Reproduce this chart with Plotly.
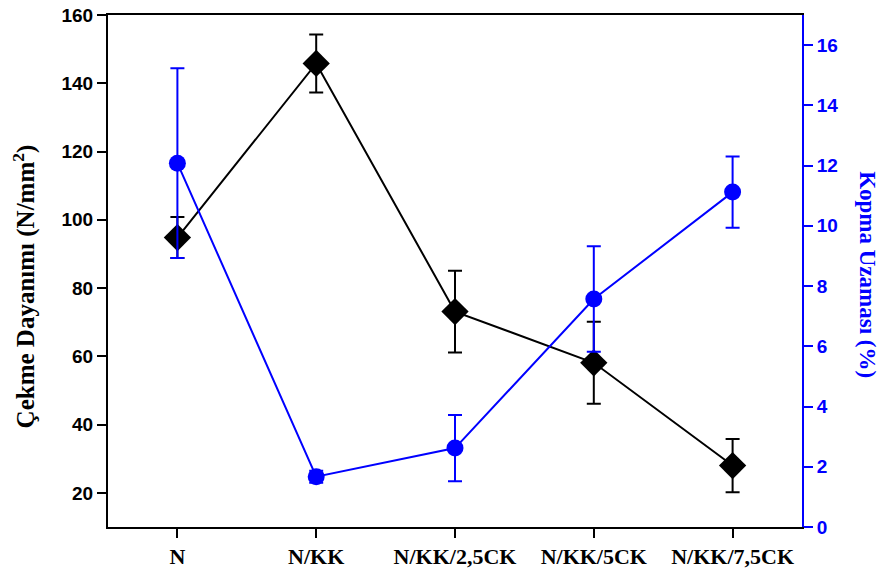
import plotly.graph_objects as go

categories = ["N", "N/KK", "N/KK/2,5CK", "N/KK/5CK", "N/KK/7,5CK"]
strength = [94.8, 145.8, 73.1, 58.1, 28.0]
strength_err = [6.0, 8.5, 12.0, 12.0, 7.8]
elongation = [12.08, 1.67, 2.62, 7.57, 11.12]
elongation_err = [3.15, 0.2, 1.1, 1.75, 1.18]

xs = list(range(len(categories)))

fig = go.Figure()
fig.add_trace(go.Scatter(
    x=xs, y=strength, mode="lines+markers",
    line=dict(color="black", width=2),
    marker=dict(symbol="diamond", size=21, color="black"),
    error_y=dict(type="data", array=strength_err, color="black", thickness=2, width=7),
    showlegend=False, yaxis="y",
))
fig.add_trace(go.Scatter(
    x=xs, y=elongation, mode="lines+markers",
    line=dict(color="#0000ff", width=2),
    marker=dict(symbol="circle", size=17, color="#0000ff"),
    error_y=dict(type="data", array=elongation_err, color="#0000ff", thickness=2, width=7),
    showlegend=False, yaxis="y2",
))

fig.update_layout(
    width=882, height=571,
    margin=dict(l=108, r=80, t=15, b=44, autoexpand=False),
    plot_bgcolor="white", paper_bgcolor="white",
    xaxis=dict(
        range=[-0.5, 4.5], tickmode="array", tickvals=xs, ticktext=categories,
        showgrid=False, zeroline=False, showline=True, linecolor="black", linewidth=2,
        mirror=True,
        ticks="outside", ticklen=9, tickwidth=2, tickcolor="black",
        tickfont=dict(family="Liberation Serif", size=22, color="black", weight="bold"),
        automargin=False, ticklabeloverflow="allow",
    ),
    yaxis=dict(
        range=[10, 160], tickmode="array", tickvals=[20, 40, 60, 80, 100, 120, 140, 160],
        showgrid=False, zeroline=False, showline=True, linecolor="black", linewidth=2,
        ticks="outside", ticklen=9, tickwidth=2, tickcolor="black",
        tickfont=dict(family="Liberation Sans", size=19, color="black", weight="bold"),
        automargin=False, ticklabeloverflow="allow",
    ),
    yaxis2=dict(
        range=[0, 17], overlaying="y", side="right",
        tickmode="array", tickvals=[0, 2, 4, 6, 8, 10, 12, 14, 16],
        showgrid=False, zeroline=False, showline=True, linecolor="#0000ff", linewidth=2,
        ticks="outside", ticklen=9, tickwidth=2, tickcolor="#0000ff",
        tickfont=dict(family="Liberation Sans", size=19, color="#0000ff", weight="bold"),
        automargin=False, ticklabeloverflow="allow",
    ),
    annotations=[
        dict(text="Çekme Dayanımı (N/mm<sup>2</sup>)", textangle=-90, xref="paper", yref="paper",
             x=-0.121, y=0.47, xanchor="center", yanchor="middle", showarrow=False,
             font=dict(family="Liberation Serif", size=25, color="black", weight="bold")),
        dict(text="Kopma Uzaması (%)", textangle=90, xref="paper", yref="paper",
             x=1.095, y=0.492, xanchor="center", yanchor="middle", showarrow=False,
             font=dict(family="Liberation Serif", size=23, color="#0000ff", weight="bold")),
    ],
)

fig.write_html("out.html", config={"displayModeBar": False},
               post_script="document.body.style.margin='0';")
